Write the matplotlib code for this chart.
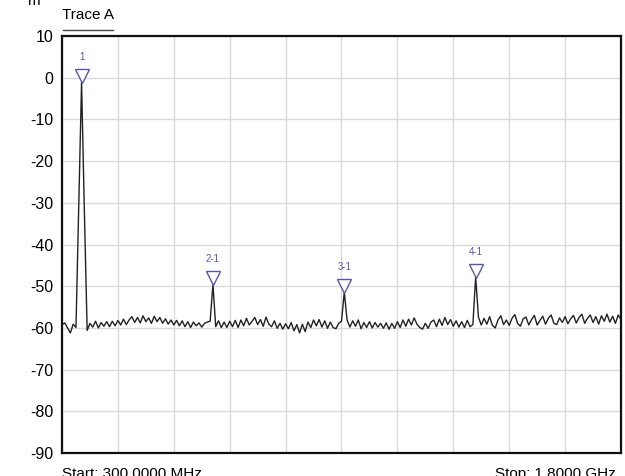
import matplotlib.pyplot as plt
import numpy as np

plt.rcParams['font.family'] = ['Liberation Sans', 'DejaVu Sans']
plt.rcParams['axes.unicode_minus'] = False

# sweep settings (MHz)
start_mhz = 300.0
stop_mhz = 1800.0

# trace levels (dBm), one per sweep point
trace_dbm = [
    -59.2, -58.8, -60.0, -61.2, -59.1, -59.9, -30.0, -1.0, -32.0, -60.6,
    -58.9, -59.8, -58.4, -60.0, -58.7, -59.6, -58.5, -59.7, -58.4, -59.5,
    -58.2, -59.3, -57.9, -59.2, -58.1, -57.3, -58.7, -57.5, -58.8, -57.1,
    -58.5, -57.6, -58.9, -57.2, -58.5, -57.5, -58.9, -57.8, -59.1, -58.1,
    -59.3, -58.2, -59.5, -58.3, -59.7, -58.5, -59.9, -58.6, -59.5, -58.8,
    -59.8, -58.9, -58.6, -58.4, -49.6, -59.7, -58.3, -59.9, -58.6, -59.9,
    -58.4, -59.7, -58.2, -59.9, -58.1, -59.5, -57.7, -59.3, -58.4, -57.5,
    -59.2, -58.0, -59.6, -57.4, -59.1, -59.7, -58.3, -60.1, -58.9, -60.3,
    -59.0, -60.2, -58.7, -60.7, -59.2, -61.2, -59.1, -60.9, -58.6, -59.9,
    -58.1, -59.5, -58.0, -59.8, -58.3, -60.1, -58.6, -59.9, -60.2, -58.9,
    -58.4, -51.4, -58.1, -59.8, -58.3, -59.6, -58.1, -60.2, -58.7, -59.9,
    -58.5, -60.0, -58.7, -59.8, -58.9, -60.1, -58.8, -60.3, -58.9, -60.1,
    -58.5, -59.9, -58.1, -59.6, -57.9, -59.3, -57.6, -59.1, -59.9, -60.3,
    -58.9, -60.1, -58.6, -58.1, -59.7, -57.9, -59.4, -57.5, -59.2, -58.0,
    -59.6, -58.3, -59.8, -58.5, -59.9, -58.2, -59.7, -59.2, -47.8, -57.4,
    -59.3, -57.7, -59.1, -57.3, -59.4, -60.0, -58.1, -57.1, -59.2, -58.1,
    -59.4, -57.7, -56.8, -58.9, -59.6, -57.8, -57.4, -59.3, -58.0, -57.0,
    -59.3, -58.2, -57.2, -59.1, -57.7, -56.9, -58.9, -59.2, -57.6, -58.7,
    -57.3, -59.0, -57.8, -57.0, -58.8, -57.5, -56.7, -58.9, -57.7, -56.9,
    -58.7, -57.3, -59.1, -57.1, -58.4, -56.7, -58.6, -57.2, -58.9, -56.9,
    -58.0,
]
freq_mhz = np.linspace(start_mhz, stop_mhz, len(trace_dbm))

# markers
marker_labels = ['1', '2-1', '3-1', '4-1']
marker_freq = [352.5, 705.0, 1057.5, 1410.0]
marker_dbm = [-1.0, -49.6, -51.4, -47.8]

fig = plt.figure(figsize=(6.25, 4.76), dpi=100)
ax = fig.add_axes([0.0992, 0.0483, 0.8944, 0.876])

ax.plot(freq_mhz, trace_dbm, color='#222222', lw=1.0)

mk_col = '#5858a8'
for lab, f, lv in zip(marker_labels, marker_freq, marker_dbm):
    ax.plot(f, lv + 1.5, marker='v', ms=10, mfc='white', mec=mk_col, mew=1.0, zorder=5)
    ax.annotate(lab, (f, lv + 1.5), xytext=(0, 10), textcoords='offset points',
                ha='center', va='bottom', fontsize=7, color=mk_col)

ax.set_xlim(start_mhz, stop_mhz)
ax.set_ylim(-90, 10)
ax.set_xticks(np.linspace(start_mhz, stop_mhz, 11))
ax.set_yticks(np.arange(-90, 11, 10))
ax.set_xticklabels([])
ax.tick_params(length=0, labelsize=11.5, pad=6)
ax.grid(True, color='#dadada', lw=1)
ax.set_axisbelow(True)
for sp in ax.spines.values():
    sp.set_linewidth(1.6)
    sp.set_color('#111111')

# header / footer text
fig.text(0.1, 1 - 15 / 476, 'Trace A', fontsize=11, va='center', ha='left')
fig.add_artist(plt.Line2D([0.1, 0.181], [1 - 30 / 476, 1 - 30 / 476],
                          color='#444444', lw=1, transform=fig.transFigure))
fig.text(0.044, 1 - 5 / 476, 'm', fontsize=11, va='baseline', ha='left')
fig.text(0.1, 1 - 478 / 476, 'Start: 300.0000 MHz', fontsize=11, va='baseline', ha='left')
fig.text(0.985, 1 - 478 / 476, 'Stop: 1.8000 GHz', fontsize=11, va='baseline', ha='right')

fig.savefig('out.png', dpi=100)
